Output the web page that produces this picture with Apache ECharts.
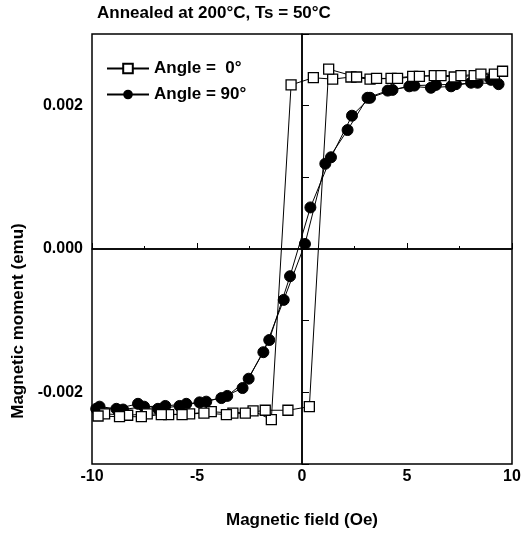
<!DOCTYPE html>
<html>
<head>
<meta charset="utf-8">
<script src="https://cdn.jsdelivr.net/npm/echarts@6/dist/echarts.min.js"></script>
<style>
  html, body { margin: 0; padding: 0; background: #fff; }
  #main { width: 524px; height: 534px; }
</style>
</head>
<body>
<div id="main"></div>
<script>
// magnetic field (Oe) / moment (emu), sweep down then sweep up
var fieldA0Down  = [9.16, 8.2, 7.25, 6.3, 5.27, 4.24, 3.24, 2.33, 1.46, 0.54, -0.52, -1.46, -2.33, -3.29, -4.32, -5.35, -6.35, -7.37, -8.3, -9.4];
var momentA0Down = [0.00244, 0.00242, 0.00240, 0.00242, 0.00241, 0.00238, 0.00237, 0.00240, 0.00237, 0.00239, 0.00229, -0.00238, -0.00226, -0.00229, -0.00227, -0.00230, -0.00231, -0.00230, -0.00232, -0.00230];
var fieldA0Up    = [-9.71, -8.69, -7.65, -6.7, -5.71, -4.67, -3.6, -2.7, -1.75, -0.67, 0.35, 1.27, 2.6, 3.55, 4.55, 5.59, 6.62, 7.57, 8.52, 9.55];
var momentA0Up   = [-0.00233, -0.00234, -0.00234, -0.00231, -0.00231, -0.00229, -0.00231, -0.00229, -0.00225, -0.00225, -0.00220, 0.00251, 0.00240, 0.00238, 0.00238, 0.00241, 0.00242, 0.00242, 0.00244, 0.00248];

var fieldA90Down  = [9.36, 8.36, 7.33, 6.38, 5.35, 4.31, 3.24, 2.38, 1.38, 0.40, -0.57, -1.56, -2.54, -3.56, -4.56, -5.51, -6.51, -7.52, -8.52, -9.64];
var momentA90Down = [0.00230, 0.00232, 0.00230, 0.00229, 0.00228, 0.00222, 0.00211, 0.00186, 0.00128, 0.00058, -0.00038, -0.00127, -0.00181, -0.00205, -0.00213, -0.00216, -0.00219, -0.00220, -0.00224, -0.00220];
var fieldA90Up    = [-9.8, -8.84, -7.81, -6.86, -5.83, -4.88, -3.84, -2.83, -1.84, -0.87, 0.14, 1.11, 2.17, 3.12, 4.08, 5.11, 6.14, 7.1, 8.05, 9.0];
var momentA90Up   = [-0.00223, -0.00223, -0.00216, -0.00223, -0.00219, -0.00214, -0.00208, -0.00194, -0.00144, -0.00071, 0.00007, 0.00119, 0.00166, 0.00211, 0.00221, 0.00227, 0.00225, 0.00227, 0.00232, 0.00236];

var seriesNames = ['Angle =  0°', 'Angle = 90°'];
var titleText = 'Annealed at 200°C, Ts = 50°C';

function pairs(xs, ys) {
  var out = [];
  for (var i = 0; i < xs.length; i++) out.push([xs[i], ys[i]]);
  return out;
}

var font = 'Liberation Sans, Arial, sans-serif';
var chart = echarts.init(document.getElementById('main'));

var option = {
  animation: false,
  backgroundColor: '#fff',
  title: {
    text: titleText,
    left: 97,
    top: 5,
    padding: 0,
    textStyle: { fontFamily: font, fontSize: 17, fontWeight: 'bold', color: '#000' }
  },
  legend: {
    orient: 'vertical',
    left: 101,
    top: 55,
    itemWidth: 42,
    itemHeight: 12,
    itemGap: 9,
    data: seriesNames,
    textStyle: { fontFamily: font, fontSize: 17, fontWeight: 'bold', color: '#000' }
  },
  grid: {
    left: 92, right: 12, top: 34, bottom: 67,
    show: true, borderColor: '#000', borderWidth: 1.5, backgroundColor: 'transparent'
  },
  xAxis: {
    type: 'value',
    min: -10, max: 10, interval: 5,
    name: 'Magnetic field (Oe)',
    nameLocation: 'middle',
    nameGap: 48,
    nameTextStyle: { fontFamily: font, fontSize: 17, fontWeight: 'bold', color: '#000' },
    axisLine: { lineStyle: { color: '#000', width: 1.5 } },
    axisTick: { inside: true, length: 6, lineStyle: { color: '#000' } },
    minorTick: { show: true, splitNumber: 2, length: 3, lineStyle: { color: '#000' } },
    splitLine: { show: false },
    axisLabel: { fontFamily: font, fontSize: 16, fontWeight: 'bold', color: '#000', margin: 5 }
  },
  yAxis: {
    type: 'value',
    min: -0.003, max: 0.003, interval: 0.001,
    name: 'Magnetic moment (emu)',
    nameLocation: 'middle',
    nameGap: 62,
    nameTextStyle: { fontFamily: font, fontSize: 17, fontWeight: 'bold', color: '#000', padding: [0, 144, 0, 0] },
    axisLine: { lineStyle: { color: '#000', width: 1.5 } },
    axisTick: { inside: true, length: 7, lineStyle: { color: '#000' } },
    splitLine: { show: false },
    axisLabel: {
      fontFamily: font, fontSize: 16, fontWeight: 'bold', color: '#000', margin: 9,
      formatter: function (v) {
        var k = Math.round(v * 1000);
        if (k % 2 !== 0 || Math.abs(k) > 2) return '';
        return (k / 1000).toFixed(3);
      }
    }
  },
  series: [
    {
      name: seriesNames[0],
      type: 'line',
      data: pairs(fieldA0Down.concat(fieldA0Up), momentA0Down.concat(momentA0Up)),
      symbol: 'rect',
      symbolSize: 10,
      itemStyle: { color: '#fff', borderColor: '#000', borderWidth: 1.3 },
      lineStyle: { color: '#000', width: 1 },
      markLine: {
        silent: true,
        symbol: 'none',
        label: { show: false },
        lineStyle: { color: '#000', width: 1.5, type: 'solid' },
        data: [{ xAxis: 0 }, { yAxis: 0 }]
      },
      z: 3
    },
    {
      name: seriesNames[1],
      type: 'line',
      data: pairs(fieldA90Down.concat(fieldA90Up), momentA90Down.concat(momentA90Up)),
      symbol: 'circle',
      symbolSize: 11,
      itemStyle: { color: '#000', borderColor: '#000' },
      lineStyle: { color: '#000', width: 1 },
      z: 2
    }
  ]
};
chart.setOption(option);
</script>
</body>
</html>
